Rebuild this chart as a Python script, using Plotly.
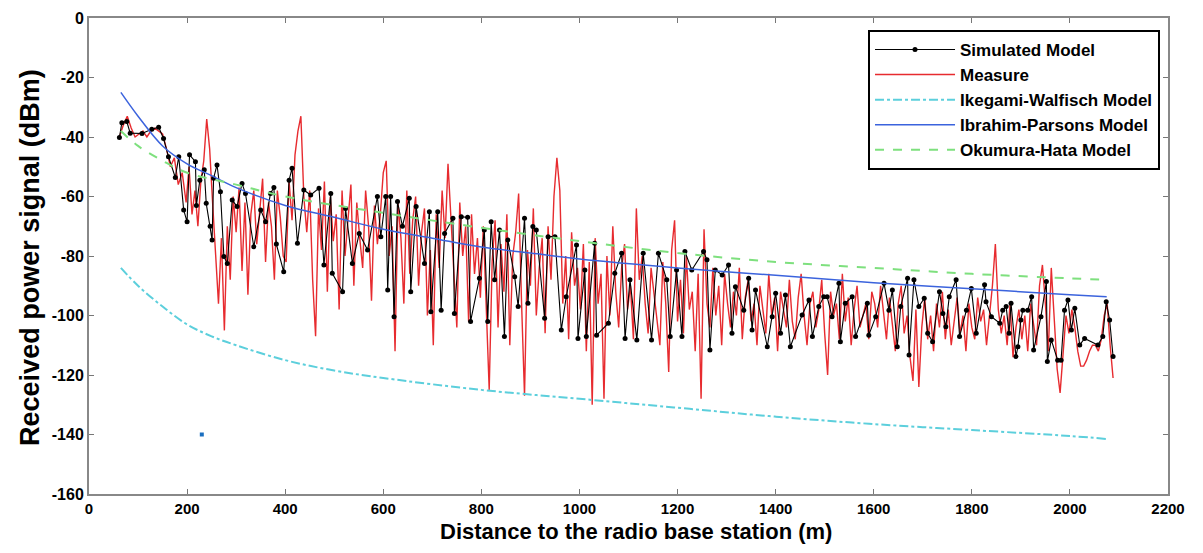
import plotly.graph_objects as go

# ---------------- data ----------------
sim_x = [62, 67, 77, 84, 108, 128, 142, 152, 162, 176, 183, 193, 200, 205, 217, 219, 226, 235, 239, 247,
         251, 254, 261, 268, 275, 282, 292, 302, 312, 319, 336, 350, 360, 370, 377, 382, 397, 408, 414, 425,
         438, 452, 469, 479, 493, 496, 517, 523, 537, 551, 568, 588, 595, 605, 609, 615, 622, 629, 639, 653,
         656, 667, 684, 694, 697, 711, 718, 725, 742, 745, 759, 772, 778, 796, 806, 813, 820, 827, 837, 847,
         854, 868, 875, 888, 895, 905, 912, 929, 936, 950, 963, 973, 994, 997, 1011, 1014, 1031, 1035, 1059, 1072,
         1086, 1093, 1103, 1117, 1130, 1147, 1161, 1178, 1185, 1198, 1209, 1215, 1229, 1253, 1260, 1266, 1277, 1291, 1304, 1311,
         1318, 1335, 1345, 1352, 1359, 1383, 1393, 1400, 1410, 1420, 1430, 1454, 1468, 1475, 1488, 1498, 1505, 1515, 1529, 1532,
         1542, 1556, 1563, 1587, 1590, 1604, 1621, 1631, 1638, 1648, 1655, 1669, 1672, 1682, 1692, 1703, 1710, 1720, 1734, 1741,
         1747, 1754, 1768, 1775, 1789, 1799, 1809, 1826, 1829, 1840, 1857, 1863, 1870, 1876, 1880, 1890, 1894, 1900, 1904, 1914,
         1922, 1926, 1941, 1952, 1954, 1962, 1975, 1982, 1989, 1996, 2003, 2010, 2020, 2030, 2057, 2067, 2074, 2081, 2088]
sim_y = [-40.2, -35.2, -34.8, -38.7, -38.8, -37.4, -36.7, -40.5, -46.6, -53.6, -46.6, -64.5, -68.5, -46, -48.3, -63, -54.5, -51, -62.3, -70,
         -74.6, -53.9, -49.4, -58.4, -80.2, -82.5, -61.2, -63.4, -55.6, -59, -76.9, -64.5, -68.5, -59, -57, -76, -85.3, -54.5, -50.5, -75.7,
         -57.8, -59.5, -57.2, -83, -59, -85.8, -92, -64, -82.5, -72.4, -78, -60, -73.5, -60, -91.4, -60, -100.4, -61.7, -70, -60.6,
         -92, -63.4, -82.5, -65.1, -98.7, -65.1, -98.2, -72.4, -67.3, -99.3, -66.8, -67, -102, -87.5, -71.3, -102, -68.5, -88, -71.3, -107.1,
         -74.6, -87, -97, -67.3, -95.9, -70.1, -71.3, -100.9, -73.5, -73.5, -104.9, -93.7, -76.3, -107.7, -84.7, -107.1, -75.7, -106.6, -102.6, -85.8,
         -79.1, -107.7, -88, -108.2, -79.1, -108.2, -79.1, -88, -107.1, -84.7, -107.1, -78.5, -84.7, -78.5, -81.3, -111.6, -84.7, -86.4, -83, -106,
         -90.3, -98.2, -87.5, -104.9, -91.4, -110.5, -100.4, -92.5, -106, -93.1, -110.5, -99.8, -94.8, -107.1, -97, -93.7, -93.7, -100.4, -89.2, -108.8,
         -95.9, -93.7, -107.1, -95.9, -106.6, -100.4, -89.2, -98.2, -91.4, -110.5, -97, -87.5, -113.3, -88, -97, -94.2, -106, -108.8, -92, -99.3,
         -103.8, -93.7, -88, -107.1, -98.2, -90.9, -106, -89.7, -95.4, -100.4, -102.6, -98.2, -97, -106, -95.9, -113.8, -110.5, -101.5, -98.2, -98.2,
         -93.7, -111.6, -100.4, -88.6, -115.5, -108.2, -115, -115, -98.2, -94.8, -104.9, -97.6, -109.9, -107.7, -109.9, -107.1, -95.4, -101.5, -113.8]

meas_x = [62, 70, 78, 86, 94, 102, 110, 118, 126, 134, 142, 150, 158, 166, 174, 182, 190, 198,
          204, 210, 216, 222, 228, 234, 240, 246, 252, 258, 264, 270, 276, 282, 288, 294, 300, 306, 312, 318, 324, 330,
          336, 342, 348, 354, 360, 366, 372, 378, 384, 390, 396,
          402, 408, 414, 420, 426, 432, 438, 444, 450, 456, 462, 468, 474, 480, 486, 492, 498, 504, 510, 516,
          522, 528, 534, 540, 546, 552, 558, 564, 570, 576, 582, 588, 594, 600, 606, 612, 618, 624, 630, 636,
          642, 648, 654, 660, 666, 672, 678, 684, 690, 696, 702, 708, 714, 720, 726, 732, 738, 744, 750, 756,
          762, 768, 774, 780, 786, 792, 798,
          804, 810, 816, 822, 828, 834, 840, 846, 852, 858, 864, 870, 876, 882, 888, 894, 900, 906, 912, 918,
          924, 930, 936, 942, 948, 954, 960, 966, 972, 978, 984, 990, 996, 1002, 1008, 1014, 1020, 1026, 1032, 1038,
          1044, 1050, 1056, 1062, 1068, 1074, 1080, 1086, 1092, 1098, 1104, 1110, 1116, 1122, 1128, 1134, 1140, 1146, 1152, 1158,
          1164, 1170, 1176, 1182, 1188, 1194, 1200,
          1206, 1212, 1218, 1224, 1230, 1236, 1242, 1248, 1254, 1260, 1266, 1272, 1278, 1284, 1290, 1296, 1302, 1308, 1314, 1320,
          1326, 1332, 1338, 1344, 1350, 1356, 1362, 1368, 1374, 1380, 1386, 1392, 1398, 1404, 1410, 1416, 1422, 1428, 1434, 1440,
          1446, 1452, 1458, 1464, 1470, 1476, 1482, 1488, 1494, 1500, 1506, 1512, 1518, 1524, 1530, 1536, 1542, 1548, 1554, 1560,
          1566, 1572, 1578, 1584, 1590, 1596,
          1602, 1608, 1614, 1620, 1626, 1632, 1638, 1644, 1650, 1656, 1662, 1668, 1674, 1680, 1686, 1692, 1698, 1704, 1710, 1716,
          1722, 1728, 1734, 1740, 1746, 1752, 1758, 1764, 1770, 1776, 1782, 1788, 1794, 1800, 1806, 1812, 1818, 1824, 1830, 1836,
          1842, 1848, 1854, 1860, 1866, 1872, 1878, 1884, 1890, 1896, 1902, 1908, 1914, 1920, 1926, 1932, 1938, 1944, 1950, 1956,
          1962, 1968, 1974, 1980, 1986, 1992, 1998, 2004, 2010, 2016, 2022, 2028, 2034, 2040, 2046, 2052, 2058, 2064, 2070, 2076,
          2082, 2088]
meas_y = [-40, -36, -33, -37, -40, -39, -38, -40, -38, -37, -38, -39, -44, -50, -47, -56, -52, -62,
          -50, -66, -58, -70, -55, -48, -34, -44, -62, -80, -96, -74, -105, -70, -88, -60, -72, -57, -85, -62, -93, -66,
          -58, -76, -64, -54, -82, -62, -70, -88, -58, -67, -80,
          -82, -55, -68, -46, -38, -33, -60, -72, -58, -88, -107, -64, -78, -55, -92, -60, -75, -66, -98, -58,
          -80, -68, -56, -90, -62, -74, -84, -58, -70, -95, -63, -76, -66, -52, -48, -80, -70, -112, -62, -74,
          -96, -58, -86, -68, -60, -90, -72, -64, -100, -78, -110, -66, -84, -58, -74, -49, -68, -88, -104, -62,
          -80, -70, -102, -66, -86, -74, -94,
          -70, -98, -125, -82, -68, -104, -76, -92, -66, -110, -80, -72, -59, -96, -127, -78, -90, -64, -100, -84,
          -74, -106, -70, -88, -60, -47, -58, -96, -80, -108, -72, -90, -84, -98, -76, -112, -82, -130, -74, -96,
          -86, -128, -80, -100, -70, -92, -104, -84, -76, -98, -90, -108, -64, -88, -80, -96, -106, -84, -92, -100,
          -110, -82, -96, -119, -78, -68, -102,
          -88, -106, -80, -98, -92, -112, -86, -128, -71, -96, -104, -84, -100, -90, -110, -86, -96, -104, -92, -100,
          -84, -108, -94, -88, -102, -96, -110, -90, -98, -106, -86, -100, -94, -112, -92, -98, -104, -88, -102, -108,
          -94, -86, -100, -110, -96, -92, -104, -98, -88, -106, -120, -92, -100, -96, -108, -86, -102, -94, -110, -98,
          -90, -104, -100, -96, -108, -92,
          -96, -104, -90, -100, -108, -94, -102, -112, -96, -90, -106, -100, -114, -122, -98, -124, -104, -94, -108, -100,
          -112, -96, -104, -92, -108, -98, -110, -102, -94, -106, -100, -112, -96, -104, -108, -94, -102, -98, -110, -100,
          -90, -76, -98, -106, -100, -110, -96, -114, -104, -98, -108, -100, -112, -96, -104, -110, -90, -83, -96, -112,
          -84, -100, -118, -126, -112, -100, -106, -98, -104, -112, -117, -117, -115, -112, -110, -110, -112, -108, -100, -96,
          -110, -121]

ik_x = [65, 100, 150, 200, 250, 300, 400, 500, 600, 800, 1000, 1200, 1400, 1600, 1800, 2000, 2075]
ik_y = [-84, -90, -97, -103, -107, -110, -115, -118.5, -121, -125, -128, -131, -134, -136.5, -138.5, -140.5, -141.5]

ip_x = [65, 100, 150, 200, 250, 300, 400, 500, 600, 700, 800, 900, 1000, 1200, 1400, 1600, 1800, 2000, 2075]
ip_y = [-25, -33, -43, -49, -53, -57, -63, -67, -71, -74, -77, -79, -81, -84, -86.5, -89, -91, -93, -93.7]

oh_x = [65, 100, 150, 200, 300, 400, 600, 800, 1000, 1200, 1400, 1600, 1800, 2000, 2075]
oh_y = [-38, -43, -48, -52, -56, -60, -65.5, -70.5, -75, -79, -82, -84, -86, -87.5, -88]

stray_x = [230]
stray_y = [-140]

x_ticks = [0, 200, 400, 600, 800, 1000, 1200, 1400, 1600, 1800, 2000, 2200]
y_ticks = [0, -20, -40, -60, -80, -100, -120, -140, -160]

x_title = "Distance to the radio base station (m)"
y_title = "Received power signal (dBm)"

# ---------------- figure ----------------
FONT = "Liberation Sans, Arial, sans-serif"
fig = go.Figure()

fig.add_trace(go.Scatter(x=meas_x, y=meas_y, mode="lines", name="Measure", legendrank=2,
                         line=dict(color="rgba(228,20,24,0.9)", width=1.4)))
fig.add_trace(go.Scatter(x=sim_x, y=sim_y, mode="lines+markers", name="Simulated Model", legendrank=1,
                         line=dict(color="black", width=1.1),
                         marker=dict(color="black", size=5)))
fig.add_trace(go.Scatter(x=ik_x, y=ik_y, mode="lines", name="Ikegami-Walfisch Model", legendrank=3,
                         line=dict(color="#5ccfdc", width=2, dash="dashdot", shape="spline")))
fig.add_trace(go.Scatter(x=ip_x, y=ip_y, mode="lines", name="Ibrahim-Parsons Model", legendrank=4,
                         line=dict(color="#3b63dd", width=1.5, shape="spline")))
fig.add_trace(go.Scatter(x=oh_x, y=oh_y, mode="lines", name="Okumura-Hata Model", legendrank=5,
                         line=dict(color="#7ee07e", width=2, dash="dash", shape="spline")))
fig.add_trace(go.Scatter(x=stray_x, y=stray_y, mode="markers", showlegend=False,
                         marker=dict(color="#1a6fc0", size=4, symbol="square")))

# page body has an 8px default margin: figure sized to fit the window
fig.update_layout(
    width=1187, height=537,
    margin=dict(l=81, r=27, t=10, b=51, autoexpand=False),
    paper_bgcolor="white", plot_bgcolor="white",
    font=dict(family=FONT, color="black"),
    legend=dict(x=0.9926, y=0.975, xanchor="right", yanchor="top",
                bgcolor="white", bordercolor="black", borderwidth=2,
                font=dict(size=17, family=FONT, weight="bold"),
                traceorder="normal", itemwidth=80, tracegroupgap=0),
    showlegend=True,
    annotations=[
        dict(text=x_title, xref="paper", yref="paper", x=0.507, y=-0.079,
             xanchor="center", yanchor="middle", showarrow=False,
             font=dict(size=22, family=FONT, weight="bold", color="black")),
        dict(text=y_title, xref="paper", yref="paper", x=-0.0547, y=0.498,
             xanchor="center", yanchor="middle", showarrow=False, textangle=-90,
             font=dict(size=27, family=FONT, weight="bold", color="black")),
    ],
)

fig.update_xaxes(range=[0, 2200], tickvals=x_ticks, ticktext=[str(v) for v in x_ticks],
                 ticks="inside", ticklen=5, tickcolor="#777", showgrid=False, zeroline=False,
                 showline=True, linecolor="#888", linewidth=2, mirror="ticks", automargin=False,
                 tickfont=dict(size=15, family=FONT, weight="bold"))
fig.update_yaxes(range=[-160, 0], tickvals=y_ticks, ticktext=[str(v) for v in y_ticks],
                 ticks="inside", ticklen=5, tickcolor="#777", showgrid=False, zeroline=False,
                 showline=True, linecolor="#888", linewidth=2, mirror="ticks", automargin=False,
                 tickfont=dict(size=16, family=FONT, weight="bold"))

fig.write_html("out.html")
